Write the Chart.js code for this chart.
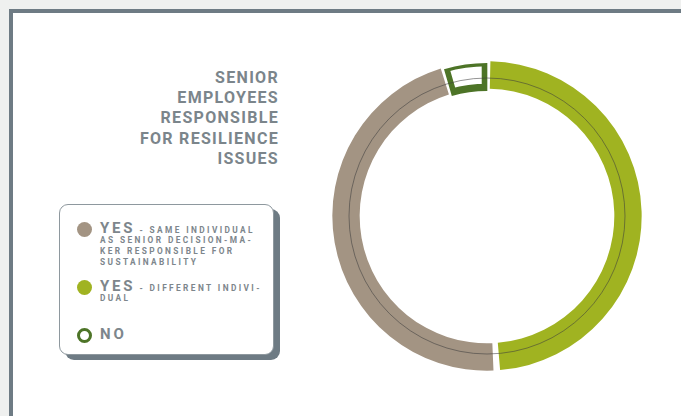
<!DOCTYPE html>
<html>
<head>
<meta charset="utf-8">
<script src="https://cdn.jsdelivr.net/npm/chart.js@4"></script>
<style>
  html, body { margin: 0; padding: 0; }
  body { width: 681px; height: 416px; background: #eff0ef; position: relative; overflow: hidden; font-family: Roboto, "Liberation Sans", sans-serif; }
  #frame { position: absolute; left: 9px; top: 9px; width: 700px; height: 420px; background: #fff; border-left: 4px solid #6e7b84; border-top: 4px solid #6e7b84; box-sizing: border-box; }
  #title { position: absolute; right: 402px; top: 68px; text-align: right; color: #7b858b; font-size: 16px; font-weight: 700; letter-spacing: 1.3px; line-height: 20.2px; }
  #legend { position: absolute; left: 59px; top: 204px; width: 215px; height: 151px; box-sizing: border-box; border: 1px solid #8e989e; border-radius: 9px; background: #fff; box-shadow: 6px 5px 0 #6e7b84; }
  .item { position: absolute; left: 40px; color: #7d868c; font-weight: 700; white-space: nowrap; }
  .dot { position: absolute; left: -23px; width: 15px; height: 15px; border-radius: 50%; box-sizing: border-box; }
  .big { font-size: 15px; letter-spacing: 2.8px; }
  .small { font-size: 8.3px; letter-spacing: 2.4px; line-height: 10.8px; }
  .lead { margin-left: 4px; }
  #wrap { position: absolute; left: 330px; top: 61px; width: 314px; height: 310px; }
</style>
</head>
<body>
<div id="frame"></div>
<div id="title"></div>
<div id="legend"></div>
<div id="wrap"><canvas id="donut"></canvas></div>
<script>
const titleLines = ['SENIOR', 'EMPLOYEES', 'RESPONSIBLE', 'FOR RESILIENCE', 'ISSUES'];
const categories = ['YES', 'YES', 'NO'];
const descriptions = [
  ['- SAME INDIVIDUAL', 'AS SENIOR DECISION-MA-', 'KER RESPONSIBLE FOR', 'SUSTAINABILITY'],
  ['- DIFFERENT INDIVI-', 'DUAL'],
  []
];
const values = [46.5, 49, 4.5];
const fills = ['#a39483', '#a0b321', '#ffffff'];
const borders = ['#a39483', '#a0b321', '#4d7427'];
// clockwise from the top: different individual, same individual, no
const drawOrder = [1, 0, 2];

document.getElementById('title').innerHTML = titleLines.join('<br>');

const legend = document.getElementById('legend');
const itemTops = [13, 71, 119];
categories.forEach((c, i) => {
  const d = descriptions[i];
  const item = document.createElement('div');
  item.className = 'item';
  item.style.top = itemTops[i] + 'px';
  let html = '<span class="dot" style="top:4px;background:' + fills[i] + ';border:' + (i === 2 ? '3px solid ' + borders[i] : 'none') + '"></span>';
  html += '<span class="big">' + c + '</span>';
  if (d.length) {
    html += '<span class="small lead">' + d[0] + '</span>';
    html += '<div class="small" style="margin-top:-2px">' + d.slice(1).join('<br>') + '</div>';
  }
  item.innerHTML = html;
  legend.appendChild(item);
});

const ringLine = {
  id: 'ringLine',
  afterDatasetsDraw(chart) {
    const arc = chart.getDatasetMeta(0).data[0];
    const ctx = chart.ctx;
    ctx.save();
    ctx.beginPath();
    ctx.arc(arc.x, arc.y, arc.outerRadius - 15, 0, Math.PI * 2);
    ctx.strokeStyle = 'rgba(60, 60, 60, 0.55)';
    ctx.lineWidth = 1;
    ctx.stroke();
    ctx.restore();
  }
};

new Chart(document.getElementById('donut'), {
  type: 'doughnut',
  data: {
    labels: drawOrder.map(i => categories[i]),
    datasets: [{
      data: drawOrder.map(i => values[i]),
      backgroundColor: drawOrder.map(i => fills[i]),
      borderColor: drawOrder.map(i => borders[i]),
      borderWidth: drawOrder.map(i => i === 2 ? 5 : 0),
      borderAlign: 'inner',
      spacing: 4
    }]
  },
  options: {
    responsive: true,
    maintainAspectRatio: false,
    animation: false,
    radius: 153,
    cutout: 125,
    plugins: { legend: { display: false }, tooltip: { enabled: false } }
  },
  plugins: [ringLine]
});
</script>
</body>
</html>
